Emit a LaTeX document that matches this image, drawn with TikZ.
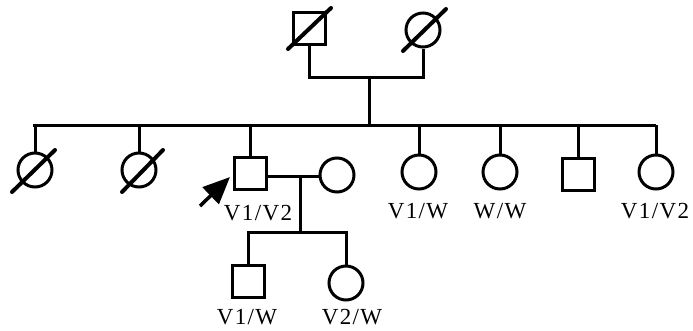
\documentclass[tikz,border=0pt]{standalone}
\usepackage{fontspec}
\setmainfont{Liberation Serif}[LetterSpace=6]
\usetikzlibrary{arrows.meta}
\begin{document}
\begin{tikzpicture}[x=1pt,y=-1pt,line width=3pt,
  male/.style={draw,rectangle,minimum size=32pt,inner sep=0pt,line width=3pt},
  female/.style={draw,circle,minimum size=34pt,inner sep=0pt,line width=3pt},
  gtype/.style={font=\fontsize{23}{23}\selectfont,inner sep=0pt},
  dead/.style={line width=4pt,line cap=round}]
\useasboundingbox (0,0) rectangle (693,330);
% founders
\node[male]   (gf) at (309,28) {};
\node[female] (gm) at (423,30) {};
\draw[dead] (288,49) -- (331,8);
\draw[dead] (403,51) -- (446,9);
\coordinate (m1) at (369,77);
\draw (gf.south) |- (m1) -| (gm.south);
% sibship
\coordinate (sL) at (33,125);
\coordinate (sR) at (656,125);
\coordinate (sC) at (369,125);
\draw (m1) -- (sC);
\draw (sL) -- (sR);
\node[female] (c1) at (35,170) {};
\node[female] (c2) at (139,170) {};
\node[male]   (p)  at (250,173) {};
\node[female] (sp) at (337,175) {};
\node[female] (c3) at (419,172) {};
\node[female] (c4) at (500,172) {};
\node[male]   (c5) at (578,174) {};
\node[female] (c6) at (656,172) {};
\draw[dead] (12,192) -- (55,150);
\draw[dead] (122,192) -- (163,150);
\foreach \n in {c1,c2,c3,c4,c5,c6}
  \draw (\n.north) -- (\n.north |- sL);
\draw (p.north) -- (p.north |- sL);
% proband marriage
\coordinate (m2) at (300,176);
\draw (p.east |- m2) -- (sp.west |- m2);
\coordinate (k) at (300,232);
\draw (m2) -- (k);
\node[male]   (g1) at (248,281) {};
\node[female] (g2) at (346,283) {};
\draw (g1.north) |- (k) -| (g2.north);
% proband arrow
\coordinate (a0) at (200,206);
\coordinate (a1) at (230,177);
\draw[line width=3.5pt,-{Triangle[length=27pt,width=23pt]}] (a0) -- (a1);
% genotype labels
\node[gtype] at (258,213) {V1/V2};
\node[gtype] at (418,211) {V1/W};
\node[gtype] at (500,211) {W/W};
\node[gtype] at (655,211) {V1/V2};
\node[gtype] at (247,317) {V1/W};
\node[gtype] at (352,317) {V2/W};
\end{tikzpicture}
\end{document}
